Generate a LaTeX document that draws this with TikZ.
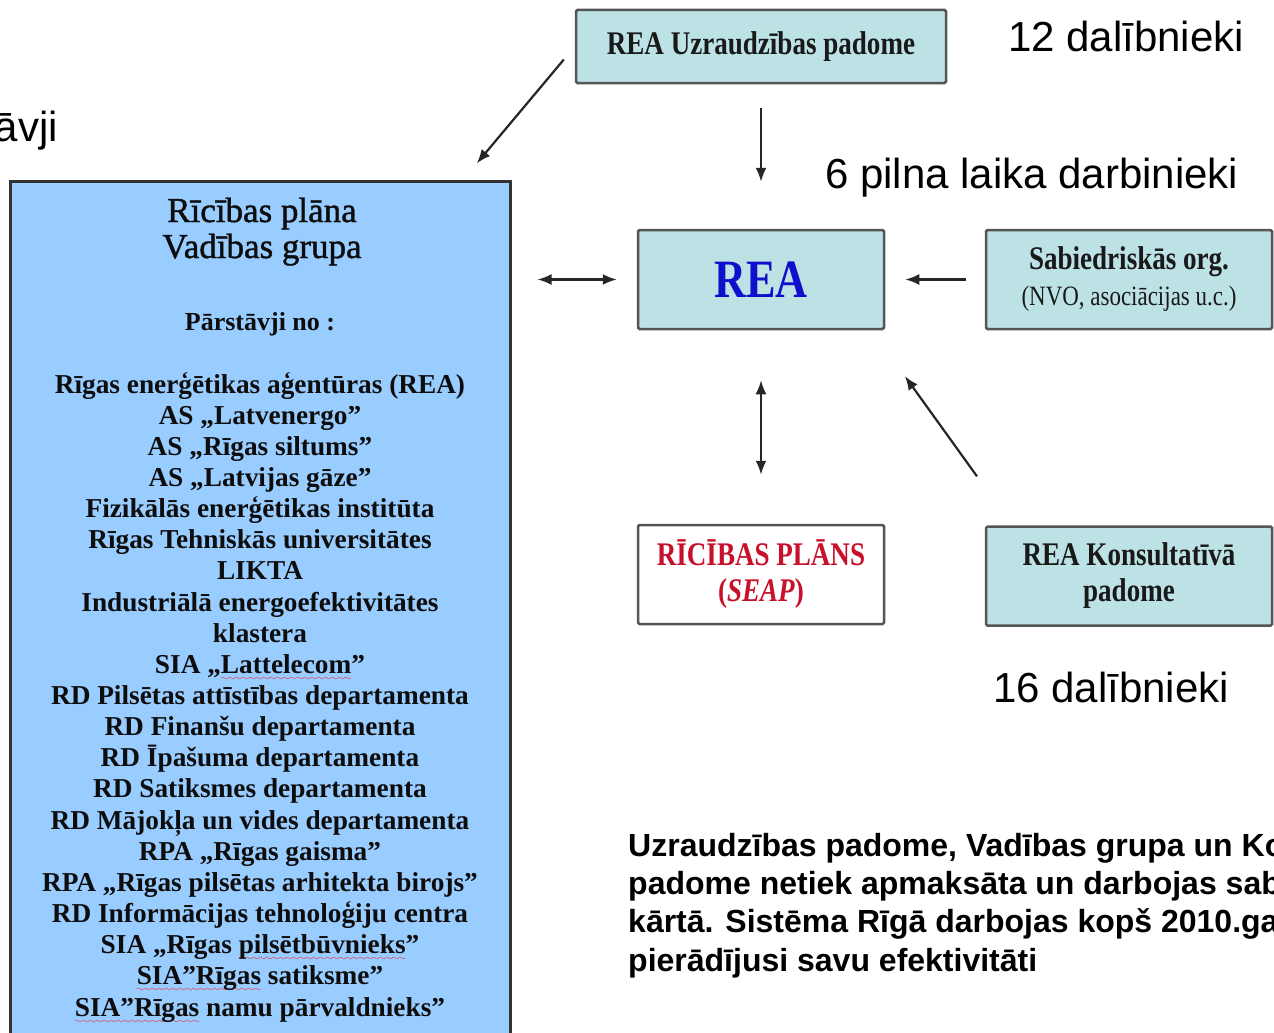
\documentclass[tikz,border=0pt]{standalone}
\usepackage{fontspec}
\setmainfont{Liberation Serif}
\newfontfamily\arialfont{Liberation Sans}
\newfontfamily\condserif[FakeStretch=0.82]{Liberation Serif}
\newfontfamily\virsrakstafont[FakeBold=1.2]{Liberation Serif}
\usetikzlibrary{arrows.meta}

\definecolor{gaiszils}{HTML}{99CCFF}
\definecolor{tirkizs}{HTML}{BDE2E5}
\definecolor{remis}{HTML}{555555}
\definecolor{reazils}{HTML}{1010CC}
\definecolor{plansarkans}{HTML}{C8102A}

\font\vilnis=lasy6 at 8pt
\newcommand\redwave[1]{\setbox0\hbox{#1}\rlap{\textcolor{red}{\lower7pt\hbox to \wd0{\xleaders\hbox{\vilnis\char58}\hfill}}}\box0\relax}

\begin{document}
\begin{tikzpicture}[x=1pt, y=-1pt,
	>={Latex[length=14pt,width=11pt]},
	bulta/.style={->, line width=2.2pt, draw=black!85},
	divbulta/.style={<->, line width=2.2pt, draw=black!85},
	kaste/.style={draw=remis, line width=2.5pt, rounded corners=1.5pt, fill=tirkizs, inner sep=0pt, align=center, font=\condserif\bfseries\fontsize{33}{36}\selectfont, text=black!90},
	lielais/.style={font=\arialfont\fontsize{42}{48}\selectfont, inner sep=0pt},
	saraksts/.style={font=\bfseries\fontsize{27.3}{31.15}\selectfont, align=center, inner sep=0pt, text=black!95}]
	\useasboundingbox (0,0) rectangle (1274,1033);
	\clip (0,0) rectangle (1274,1033);

	% vadibas grupa
	\node[draw=black!80, line width=3pt, fill=gaiszils, minimum width=500pt, minimum height=900pt, inner sep=0pt] (grupa) at (260,631) {};
	\node[font=\virsrakstafont\fontsize{35}{36}\selectfont, align=center, inner sep=0pt, anchor=base, text=black!95] (nosaukums) at (262,258) {Rīcības plāna\\Vadības grupa};
	\node[saraksts, font=\bfseries\fontsize{26}{31}\selectfont, anchor=base] (parstavji) at (260,330) {Pārstāvji no :};
	\node[saraksts, anchor=base] (dalibnieki) at (260,1016) {Rīgas enerģētikas aģentūras (REA)\\
		AS „Latvenergo”\\
		AS „Rīgas siltums”\\
		AS „Latvijas gāze”\\
		Fizikālās enerģētikas institūta\\
		Rīgas Tehniskās universitātes\\
		LIKTA\\
		Industriālā energoefektivitātes\\
		klastera\\
		SIA „\redwave{Lattelecom}”\\
		RD Pilsētas attīstības departamenta\\
		RD Finanšu departamenta\\
		RD Īpašuma departamenta\\
		RD Satiksmes departamenta\\
		RD Mājokļa un vides departamenta\\
		RPA „Rīgas gaisma”\\
		RPA „Rīgas pilsētas arhitekta birojs”\\
		RD Informācijas tehnoloģiju centra\\
		SIA „Rīgas \redwave{pilsētbūvnieks}”\\
		\redwave{SIA”Rīgas} satiksme”\\
		\redwave{SIA”Rīgas} namu pārvaldnieks”};

	% REA un padomes
	\node[kaste, minimum width=370pt, minimum height=73pt] (uzr) at (761,46.5) {REA Uzraudzības padome};
	\node[kaste, minimum width=246pt, minimum height=99pt, font=\condserif\bfseries\fontsize{54}{54}\selectfont, text=reazils] (rea) at (761,279.5) {REA};
	\node[kaste, minimum width=286pt, minimum height=99pt] (sab) at (1129,279.5) {Sabiedriskās org.\\{\mdseries\fontsize{28}{35}\selectfont (NVO, asociācijas u.c.)}};
	\node[kaste, fill=white, text=plansarkans, minimum width=246pt, minimum height=99pt] (plans) at (761,574.5) {RĪCĪBAS PLĀNS\\(\textit{SEAP})};
	\node[kaste, minimum width=286pt, minimum height=99pt] (kons) at (1129,576) {REA Konsultatīvā\\padome};

	\node[lielais, anchor=base west] (uzrskaits) at (1008,52) {12 dalībnieki};
	\node[lielais, anchor=base west] (darbinieki) at (825,188) {6 pilna laika darbinieki};
	\node[lielais, anchor=base west] (konsskaits) at (993,702) {16 dalībnieki};
	\node[lielais, anchor=base east] (parstavjiteksts) at (58,141) {āvji};

	\node[font=\arialfont\bfseries\fontsize{32}{38.3}\selectfont, align=left, anchor=base west, inner sep=0pt] (piezime) at (628,971) {Uzraudzības padome, Vadības grupa un Ko\\
		padome netiek apmaksāta un darbojas sab\\
		kārtā. Sistēma Rīgā darbojas kopš 2010.ga\\
		pierādījusi savu efektivitāti};

	% bultas
	\coordinate (grupaaugsa) at (462,181);
	\coordinate (konsaugsa) at (1012,525);
	\coordinate (reastura) at (871,329);
	\draw[bulta, shorten <=17pt, shorten >=23pt] (uzr.west) -- (grupaaugsa);
	\draw[bulta, shorten <=24pt, shorten >=47pt] (uzr) -- (rea);
	\draw[divbulta, shorten <=26pt, shorten >=20pt] (grupa.east |- rea) -- (rea.west);
	\draw[bulta, shorten <=19pt, shorten >=20pt] (sab) -- (rea);
	\draw[divbulta, shorten <=50pt, shorten >=49pt] (rea) -- (plans);
	\draw[bulta, shorten <=60pt, shorten >=58pt] (konsaugsa) -- (reastura);
\end{tikzpicture}
\end{document}
